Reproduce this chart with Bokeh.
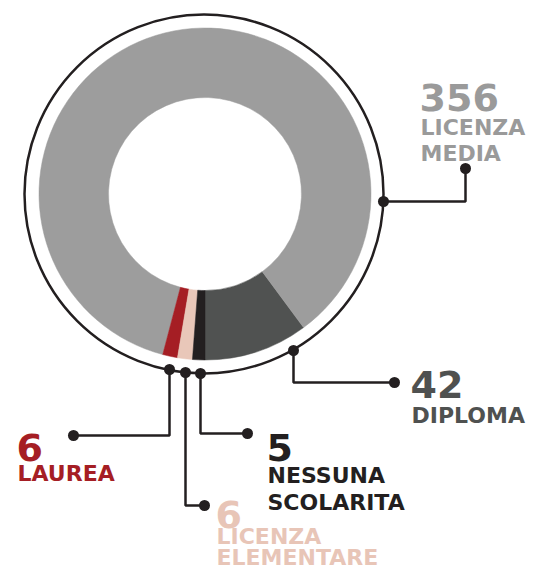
import numpy as np
from bokeh.plotting import figure
from bokeh.models import Range1d, ColumnDataSource
from bokeh.embed import file_html
from bokeh.resources import INLINE
from bokeh.core.properties import value

# ---- data ----
categories = ["DIPLOMA", "LICENZA MEDIA", "LAUREA", "LICENZA ELEMENTARE", "NESSUNA SCOLARITA"]
values = [42, 356, 6, 6, 5]
label_lines = [["DIPLOMA"], ["LICENZA", "MEDIA"], ["LAUREA"], ["LICENZA", "ELEMENTARE"], ["NESSUNA", "SCOLARITA"]]

# ---- styles ----
colors = ["#505251", "#9d9d9d", "#a51e24", "#e9c7b9", "#231f20"]
text_colors = ["#4f5150", "#9a9a9a", "#a51e24", "#e8c5b7", "#231f20"]
INK = "#231f20"
FONT = value("DejaVu Sans")

W, H = 529, 571
def Y(y):
    return H - y

p = figure(width=W, height=H, x_range=Range1d(0, W), y_range=Range1d(0, H),
           output_backend="svg", toolbar_location=None, min_border=0)
p.axis.visible = False
p.grid.visible = False
p.outline_line_color = None

CX, CY = 204.5, 193.5
total = sum(values)
cum = np.cumsum([0] + values) / total * 2 * np.pi + np.deg2rad(270)
src = ColumnDataSource(dict(start=cum[:-1], end=cum[1:], color=colors))
p.annular_wedge(x=CX, y=Y(CY), inner_radius=96.5, outer_radius=166,
                start_angle="start", end_angle="end", direction="anticlock",
                fill_color="color", line_color="color", line_width=0.5, source=src)

# outer ring
p.circle(x=CX - 1, y=Y(CY), radius=179.5, fill_color=None, line_color=INK, line_width=2.5)

# leader lines (pixel coordinates from top-left), one per category
leaders = [
    [(293, 350), (293, 382), (394, 382)],
    [(383, 201), (465, 201), (465, 168)],
    [(169, 369), (169, 435), (73, 435)],
    [(185, 372), (185, 505), (204, 505)],
    [(200, 373), (200, 433), (247, 433)],
]
for path in leaders:
    xs = [pt[0] for pt in path]
    ys = [Y(pt[1]) for pt in path]
    p.line(xs, ys, line_color=INK, line_width=2.5)
    p.scatter([xs[0], xs[-1]], [ys[0], ys[-1]], size=11, fill_color=INK, line_color=None)

# label layout: left x, number baseline, line baselines
layout = [
    (410, 384, [415]),
    (419, 97, [127, 153]),
    (16, 447, [473]),
    (215, 514, [536, 557]),
    (266, 447, [475, 502]),
]
for i, (lx, nb, lbs) in enumerate(layout):
    p.text(x=[lx], y=[Y(nb)], text=[str(values[i])], text_font=FONT, text_font_style="bold",
           text_font_size="38px", text_color=text_colors[i], text_baseline="alphabetic",
           text_align="left")
    p.text(x=[lx + 1] * len(lbs), y=[Y(b) for b in lbs], text=label_lines[i], text_font=FONT,
           text_font_style="bold", text_font_size="22px", text_color=text_colors[i],
           text_baseline="alphabetic", text_align="left")

open("out.html", "w").write(file_html(p, INLINE))
